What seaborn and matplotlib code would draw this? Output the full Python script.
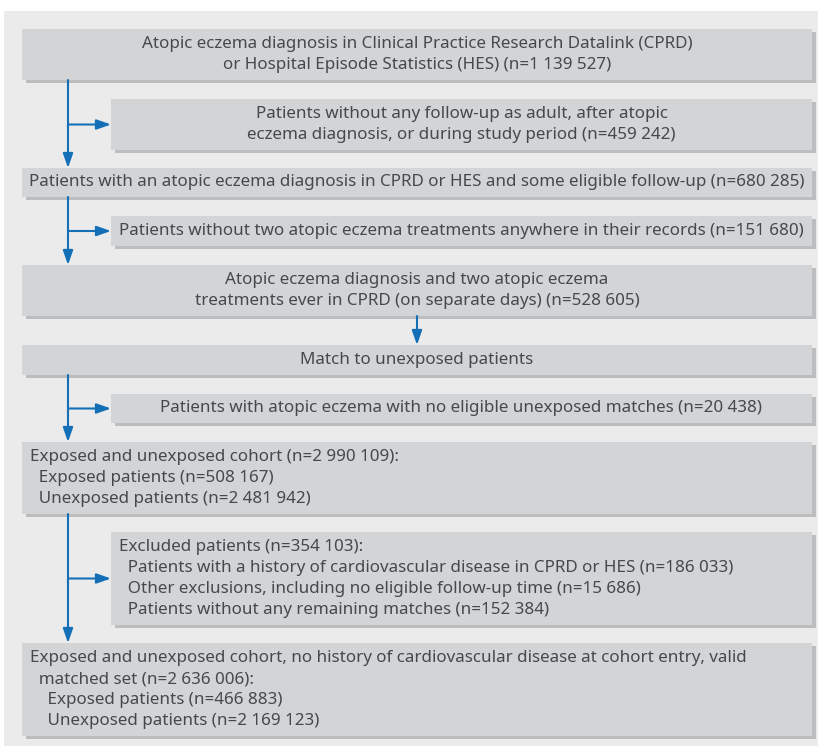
"""
Flow chart of the atopic eczema cohort selection
Run: python plot.py
"""

import matplotlib
matplotlib.use("Agg")
import matplotlib.pyplot as plt
import seaborn as sns
from matplotlib.patches import Rectangle

sns.set_theme(style="white")
plt.rcParams['font.family'] = ['Noto Sans', 'DejaVu Sans']

# ============================================
# CHART TEXT (boxes top to bottom)
# ============================================
main_steps = [
    ["Atopic eczema diagnosis in Clinical Practice Research Datalink (CPRD)",
     "or Hospital Episode Statistics (HES) (n=1 139 527)"],
    ["Patients with an atopic eczema diagnosis in CPRD or HES and some eligible follow-up (n=680 285)"],
    ["Atopic eczema diagnosis and two atopic eczema",
     "treatments ever in CPRD (on separate days) (n=528 605)"],
    ["Match to unexposed patients"],
    ["Exposed and unexposed cohort (n=2 990 109):",
     "  Exposed patients (n=508 167)",
     "  Unexposed patients (n=2 481 942)"],
    ["Exposed and unexposed cohort, no history of cardiovascular disease at cohort entry, valid",
     "  matched set (n=2 636 006):",
     "    Exposed patients (n=466 883)",
     "    Unexposed patients (n=2 169 123)"],
]
main_align = ["center", "center", "center", "center", "left", "left"]

side_steps = [
    ["Patients without any follow-up as adult, after atopic",
     "eczema diagnosis, or during study period (n=459 242)"],
    ["Patients without two atopic eczema treatments anywhere in their records (n=151 680)"],
    ["Patients with atopic eczema with no eligible unexposed matches (n=20 438)"],
    ["Excluded patients (n=354 103):",
     "  Patients with a history of cardiovascular disease in CPRD or HES (n=186 033)",
     "  Other exclusions, including no eligible follow-up time (n=15 686)",
     "  Patients without any remaining matches (n=152 384)"],
]
side_align = ["center", "center", "center", "left"]

# ============================================
# LAYOUT (pixel units, y downwards)
# ============================================
main_y = [(29, 80), (168, 197), (265, 316), (345, 375), (442, 514), (643, 736)]
side_y = [(99, 150), (216, 246), (394, 423), (532, 625)]
main_x = (22, 812)
side_x = (111, 812)
stem_x = 68
line_gap = 20.7
font_size = 12.25

box_fill = '#d3d4d6'
shadow_col = '#bcbdbf'
panel_col = '#ebebeb'
text_col = '#47484a'
blue = '#1470b6'

fig = plt.figure(figsize=(8.18, 7.46), dpi=100)
ax = fig.add_axes([0, 0, 1, 1])
ax.set_xlim(0, 818)
ax.set_ylim(746, 0)
ax.axis('off')

ax.add_patch(Rectangle((4, 11), 814, 735, color=panel_col, lw=0, zorder=0))


def draw_box(x0, x1, y0, y1, lines, align):
    ax.add_patch(Rectangle((x0 + 4, y0 + 3), x1 - x0, y1 - y0,
                           color=shadow_col, lw=0, zorder=1))
    ax.add_patch(Rectangle((x0, y0), x1 - x0, y1 - y0,
                           color=box_fill, lw=0, zorder=2))
    yc = (y0 + y1) / 2
    n = len(lines)
    for i, line in enumerate(lines):
        y = yc + (i - (n - 1) / 2) * line_gap
        if align == "center":
            ax.text((x0 + x1) / 2, y, line, ha='center', va='center',
                    fontsize=font_size, color=text_col, zorder=3)
        else:
            ax.text(x0 + 8, y, line, ha='left', va='center',
                    fontsize=font_size, color=text_col, zorder=3)


for (y0, y1), lines, al in zip(main_y, main_steps, main_align):
    draw_box(main_x[0], main_x[1], y0, y1, lines, al)
for (y0, y1), lines, al in zip(side_y, side_steps, side_align):
    draw_box(side_x[0], side_x[1], y0, y1, lines, al)

arrow_kw = dict(arrowstyle="-|>,head_length=0.43,head_width=0.15",
                color=blue, lw=1.5, mutation_scale=20,
                shrinkA=0, shrinkB=0)


def arrow(x0, y0, x1, y1):
    ax.annotate("", xy=(x1, y1), xytext=(x0, y0), arrowprops=arrow_kw, zorder=4)


# Stems with a branch to the exclusion box
branch_pairs = [(0, 1, 0), (1, 2, 1), (3, 4, 2), (4, 5, 3)]
for a, b, s in branch_pairs:
    arrow(stem_x, main_y[a][1], stem_x, main_y[b][0])
    yb = (side_y[s][0] + side_y[s][1]) / 2
    arrow(stem_x, yb, side_x[0], yb)

# Straight arrow: treatments box -> matching
arrow(417, main_y[2][1], 417, main_y[3][0])

plt.savefig('out.png', dpi=100)
